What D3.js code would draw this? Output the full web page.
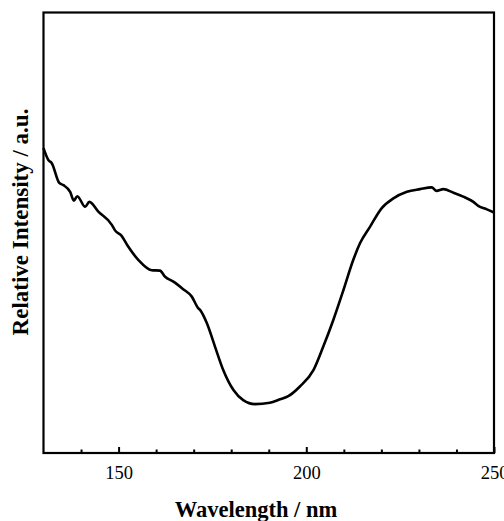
<!DOCTYPE html>
<html>
<head>
<meta charset="utf-8">
<script src="https://cdn.jsdelivr.net/npm/d3@7"></script>
<style>
  body { margin: 0; background: #fff; }
  text { font-family: "Liberation Serif", "Times New Roman", serif; }
</style>
</head>
<body>
<div id="chart"></div>
<script>
// Data
const wavelength = [130, 131.3, 132.2, 134.2, 135.3, 137.1, 138.1, 139.0, 141.1, 142.2,
  144.6, 148.2, 149.0, 150.8, 152.6, 155.3, 158.8, 161.0, 162.4, 164.6,
  167.2, 169.5, 171.2, 171.7, 173.5, 175.7, 177.9, 180.6, 183.2, 186.3,
  190.3, 193.0, 195.2, 198.3, 201.9, 204.5, 207.2, 209.9, 212.5, 214.3,
  217.0, 220.1, 223.2, 226.8, 230.3, 233.4, 234.7, 236.5, 239.2, 241.8,
  244.5, 245.8, 248.1, 250]
const intensity = [69.2, 66.5, 65.8, 61.3, 60.8, 59.3, 57.3, 58.3, 55.9, 57.0,
  54.8, 51.8, 50.6, 49.3, 46.8, 43.8, 41.5, 41.4, 40.0, 38.9,
  37.2, 35.5, 32.9, 32.5, 29.5, 24.1, 18.8, 14.3, 12.0, 11.1,
  11.4, 12.2, 12.9, 15.1, 18.8, 24.1, 30.2, 37.0, 43.8, 47.6,
  51.4, 55.6, 57.8, 59.3, 59.9, 60.3, 59.5, 59.9, 59.1, 58.2,
  57.0, 56.1, 55.3, 54.6]
const majorTicks = [150, 200, 250]
const minorTicks = [140, 160, 170, 180, 190, 210, 220, 230, 240]

const dataset = wavelength.map((w, i) => ({ w: w, v: intensity[i] }))

// Dimensions
let dims = {
  width: 504,
  height: 521,
  margin: { top: 12.5, bottom: 68, right: 10, left: 43.5 }
}
dims.ctrWidth = dims.width - dims.margin.left - dims.margin.right
dims.ctrHeight = dims.height - dims.margin.top - dims.margin.bottom

// Scales
const xScale = d3.scaleLinear()
  .domain([130, 250])
  .range([0, dims.ctrWidth])

const yScale = d3.scaleLinear()
  .domain([0, 100])
  .range([dims.ctrHeight, 0])

const svg = d3.select('#chart')
  .append('svg')
  .attr('width', dims.width)
  .attr('height', dims.height)

const ctr = svg.append('g')
  .attr('transform', `translate(${dims.margin.left}, ${dims.margin.top})`)

// Curve
const line = d3.line()
  .x(d => xScale(d.w))
  .y(d => yScale(d.v))
  .curve(d3.curveMonotoneX)

ctr.append('path')
  .datum(dataset)
  .attr('d', line)
  .attr('fill', 'none')
  .attr('stroke', '#000')
  .attr('stroke-width', 2.6)
  .attr('stroke-linejoin', 'round')

// Inward ticks on bottom axis
const xAxisMajor = d3.axisBottom(xScale)
  .tickValues(majorTicks)
  .tickSize(-6)
  .tickPadding(13)
  .tickFormat(d3.format('d'))
const xAxisMinor = d3.axisBottom(xScale)
  .tickValues(minorTicks)
  .tickSize(-3.5)
  .tickFormat('')

const gMinor = ctr.append('g')
  .attr('transform', `translate(0, ${dims.ctrHeight})`)
  .call(xAxisMinor)
const gMajor = ctr.append('g')
  .attr('transform', `translate(0, ${dims.ctrHeight})`)
  .call(xAxisMajor)

ctr.selectAll('.domain').remove()
ctr.selectAll('.tick line').attr('stroke', '#000').attr('stroke-width', 2)
gMajor.selectAll('text')
  .attr('font-size', 18.5)
  .attr('font-family', '"Liberation Serif", serif')
  .attr('fill', '#000')

// Frame
ctr.append('rect')
  .attr('x', 0)
  .attr('y', 0)
  .attr('width', dims.ctrWidth)
  .attr('height', dims.ctrHeight)
  .attr('fill', 'none')
  .attr('stroke', '#000')
  .attr('stroke-width', 2.2)

// Axis titles
svg.append('text')
  .text('Wavelength / nm')
  .attr('x', 256)
  .attr('y', 517)
  .attr('text-anchor', 'middle')
  .attr('font-weight', 'bold')
  .attr('font-size', 22.5)

svg.append('text')
  .text('Relative Intensity / a.u.')
  .attr('transform', 'translate(28, 222) rotate(-90)')
  .attr('text-anchor', 'middle')
  .attr('font-weight', 'bold')
  .attr('font-size', 23)
</script>
</body>
</html>
